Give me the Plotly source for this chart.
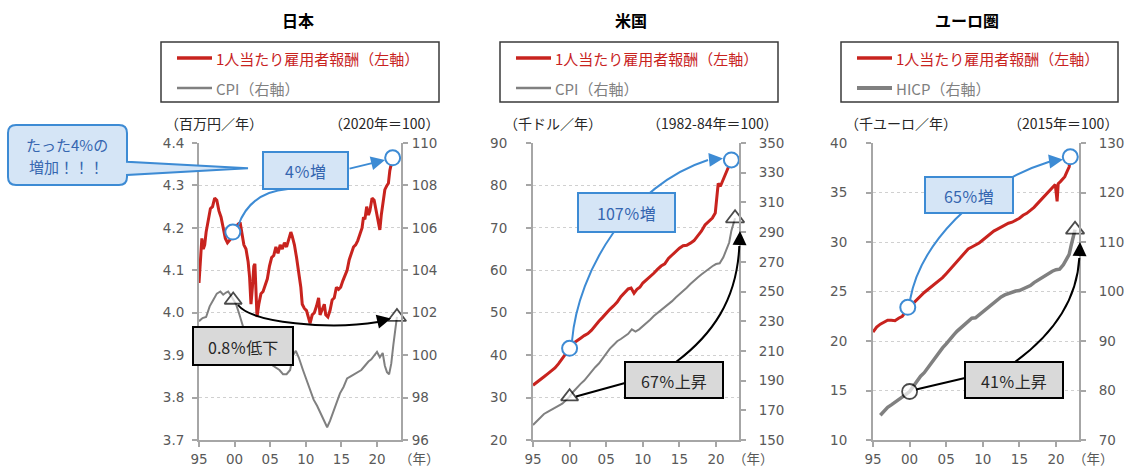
import plotly.graph_objects as go

W, H = 1132, 471
FONT = "Noto Sans CJK JP"
NUM_FONT = "DejaVu Sans"

RED = "#c8231e"
GRAY = "#808080"
BLUE = "#3d8bd4"
BLUE_FILL = "#d5e5f6"
BLUE_TEXT = "#3566b0"
BOX_GRAY = "#d9d9d9"
AXIS = "#a6a6a6"
TICK_TEXT = "#595959"

# ---------------- data ----------------
year_ticks = [1995, 2000, 2005, 2010, 2015, 2020]
year_labels = ["95", "00", "05", "10", "15", "20"]

panel_titles = ["日本", "米国", "ユーロ圏"]
wage_name = "1人当たり雇用者報酬（左軸）"
price_names = ["CPI（右軸）", "CPI（右軸）", "HICP（右軸）"]
left_units = ["（百万円／年）", "（千ドル／年）", "（千ユーロ／年）"]
right_units = ["（2020年＝100）", "（1982-84年＝100）", "（2015年＝100）"]

# Japan: compensation per employee (million yen / year)
jp_wage_years = [1995.0, 1995.2, 1995.4, 1995.6, 1995.8, 1996.0, 1996.3, 1996.6, 1996.9, 1997.2,
                 1997.5, 1997.8, 1998.1, 1998.4, 1998.7, 1999.0, 1999.3, 1999.5, 1999.75, 2000.0,
                 2000.3, 2000.6, 2000.8, 2001.0, 2001.3, 2001.6, 2001.9, 2002.1, 2002.3, 2002.5,
                 2002.7, 2002.85, 2003.0, 2003.15, 2003.4, 2003.7, 2004.0, 2004.3, 2004.6, 2004.9,
                 2005.2, 2005.5, 2005.8, 2006.1, 2006.4, 2006.7, 2007.0, 2007.3, 2007.6, 2007.9,
                 2008.1, 2008.4, 2008.7, 2009.0, 2009.3, 2009.5, 2009.8, 2010.1, 2010.4, 2010.6,
                 2010.9, 2011.2, 2011.5, 2011.8, 2012.0, 2012.3, 2012.6, 2012.8, 2013.1, 2013.4,
                 2013.7, 2014.0, 2014.3, 2014.6, 2014.9, 2015.2, 2015.5, 2015.8, 2016.1, 2016.4,
                 2016.7, 2017.0, 2017.3, 2017.6, 2017.9, 2018.1, 2018.3, 2018.55, 2018.8, 2019.0,
                 2019.3, 2019.6, 2019.9, 2020.2, 2020.4, 2020.6, 2020.9, 2021.1, 2021.4, 2021.6,
                 2021.8, 2022.0, 2022.2]
jp_wage = [4.07, 4.12, 4.175, 4.15, 4.16, 4.19, 4.22, 4.245, 4.25, 4.27,
           4.265, 4.24, 4.225, 4.20, 4.175, 4.165, 4.17, 4.175, 4.19, 4.195,
           4.205, 4.21, 4.21, 4.19, 4.16, 4.15, 4.12, 4.085, 4.02, 4.06,
           4.11, 4.115, 4.02, 3.99, 4.02, 4.045, 4.05, 4.065, 4.08, 4.11,
           4.13, 4.135, 4.155, 4.14, 4.16, 4.15, 4.165, 4.155, 4.17, 4.19,
           4.18, 4.16, 4.13, 4.10, 4.06, 4.02, 4.01, 4.005, 3.99, 3.975,
           3.995, 4.0, 4.015, 4.035, 3.995, 4.01, 4.02, 3.995, 3.99, 4.005,
           4.03, 4.035, 4.06, 4.055, 4.06, 4.075, 4.09, 4.10, 4.125, 4.14,
           4.155, 4.16, 4.17, 4.185, 4.20, 4.225, 4.22, 4.25, 4.23, 4.24,
           4.27, 4.265, 4.235, 4.205, 4.195, 4.23, 4.27, 4.29, 4.30, 4.305,
           4.335, 4.35, 4.365]

# Japan: CPI (2020 = 100)
jp_cpi_years = [1995.0, 1995.5, 1996.0, 1996.5, 1997.0, 1997.5, 1998.0, 1998.4, 1998.8, 1999.1,
                1999.5, 1999.8, 2000.2, 2000.6, 2001.0, 2001.5, 2002.0, 2002.5, 2003.0, 2003.5,
                2004.0, 2004.5, 2005.0, 2005.4, 2005.9, 2006.3, 2006.8, 2007.3, 2007.8, 2008.2,
                2008.6, 2009.0, 2009.6, 2010.1, 2010.6, 2011.1, 2011.6, 2012.0, 2012.5, 2013.0,
                2013.4, 2013.8, 2014.3, 2014.8, 2015.3, 2015.8, 2016.3, 2016.8, 2017.3, 2017.8,
                2018.3, 2018.8, 2019.2, 2019.6, 2020.0, 2020.4, 2020.8, 2021.1, 2021.4, 2021.7,
                2022.0, 2022.3, 2022.6, 2022.8]
jp_cpi = [101.6, 101.75, 101.8, 102.3, 102.6, 102.9, 103.0, 102.85, 102.95, 103.0,
          102.8, 102.6, 102.4, 102.0, 101.5, 101.0, 100.7, 100.4, 100.3, 100.2,
          100.1, 99.9, 99.6, 99.5, 99.4, 99.3, 99.1, 99.1, 99.3, 100.0,
          100.2, 99.9, 99.3, 98.8, 98.3, 97.9, 97.6, 97.3, 97.0, 96.6,
          96.9, 97.3, 97.8, 98.2, 98.5, 98.9, 99.0, 99.1, 99.2, 99.3,
          99.5, 99.7, 99.8, 100.0, 100.15, 99.9, 100.1, 99.5, 99.2, 99.1,
          99.6, 100.5, 101.3, 101.8]

# United States: compensation per employee (thousand dollars / year)
us_wage_years = [1995.0, 1995.5, 1996.0, 1996.5, 1997.0, 1997.5, 1998.0, 1998.5, 1999.0, 1999.5,
                 2000.0, 2000.5, 2001.0, 2001.5, 2002.0, 2002.5, 2003.0, 2003.5, 2004.0, 2004.5,
                 2005.0, 2005.5, 2006.0, 2006.5, 2007.0, 2007.5, 2008.0, 2008.4, 2008.8, 2009.2,
                 2009.6, 2010.0, 2010.5, 2011.0, 2011.5, 2012.0, 2012.5, 2013.0, 2013.5, 2014.0,
                 2014.5, 2015.0, 2015.5, 2016.0, 2016.5, 2017.0, 2017.5, 2018.0, 2018.5, 2019.0,
                 2019.5, 2019.9, 2020.1, 2020.3, 2020.6, 2020.9, 2021.2, 2021.5, 2021.8, 2022.1]
us_wage = [32.9, 33.5, 34.2, 34.9, 35.6, 36.2, 37.0, 38.0, 39.3, 40.5,
           41.6, 42.8, 43.5, 44.0, 44.6, 45.1, 45.9, 47.0, 48.0, 48.9,
           49.9, 50.8, 51.6, 52.5, 53.8, 54.8, 55.6, 55.8, 54.6, 55.5,
           56.0, 57.0, 57.7, 58.5, 59.3, 60.2, 61.0, 61.5, 62.8, 63.6,
           64.5, 65.2, 65.8, 65.9, 66.4, 67.0, 68.1, 69.2, 70.7, 71.6,
           72.3, 73.5, 77.0, 80.5, 79.8, 81.0, 82.0, 83.3, 84.6, 86.0]

# United States: CPI (1982-84 = 100)
us_cpi_years = [1995.0, 1995.5, 1996.0, 1996.5, 1997.0, 1997.5, 1998.0, 1998.5, 1999.0, 1999.5,
                2000.0, 2000.5, 2001.0, 2001.5, 2002.0, 2002.5, 2003.0, 2003.5, 2004.0, 2004.5,
                2005.0, 2005.5, 2006.0, 2006.5, 2007.0, 2007.5, 2008.0, 2008.5, 2009.0, 2009.5,
                2010.0, 2010.5, 2011.0, 2011.5, 2012.0, 2012.5, 2013.0, 2013.5, 2014.0, 2014.5,
                2015.0, 2015.5, 2016.0, 2016.5, 2017.0, 2017.5, 2018.0, 2018.5, 2019.0, 2019.5,
                2020.0, 2020.5, 2021.0, 2021.4, 2021.8, 2022.1, 2022.4, 2022.6]
us_cpi = [160.1, 162.5, 165.0, 167.5, 169.0, 170.3, 171.5, 173.0, 174.5, 176.8,
          179.2, 182.5, 185.5, 187.8, 190.0, 193.0, 196.5, 199.0, 201.5, 205.0,
          208.5, 211.5, 214.0, 216.5, 218.0, 219.5, 221.5, 224.5, 223.0, 224.5,
          226.5, 228.5, 231.0, 233.5, 235.5, 237.5, 239.0, 241.0, 243.5, 246.0,
          248.0, 250.0, 252.5, 255.0, 257.5, 259.5, 261.5, 263.5, 265.0, 267.0,
          268.5, 269.0, 273.0, 278.5, 283.0, 291.0, 296.5, 299.3]

# Euro area: compensation per employee (thousand euros / year)
ea_wage_years = [1995.0, 1995.5, 1996.0, 1996.5, 1997.0, 1997.5, 1998.0, 1998.5, 1999.0, 1999.5,
                 1999.75, 2000.5, 2001.0, 2001.5, 2002.0, 2002.5, 2003.0, 2003.5, 2004.0, 2004.5,
                 2005.0, 2005.5, 2006.0, 2006.5, 2007.0, 2007.5, 2008.0, 2008.5, 2009.0, 2009.5,
                 2010.0, 2010.5, 2011.0, 2011.5, 2012.0, 2012.5, 2013.0, 2013.5, 2014.0, 2014.5,
                 2015.0, 2015.5, 2016.0, 2016.5, 2017.0, 2017.5, 2018.0, 2018.5, 2019.0, 2019.5,
                 2019.9, 2020.15, 2020.3, 2020.6, 2020.9, 2021.2, 2021.5, 2021.8, 2021.95]
ea_wage = [20.9, 21.4, 21.7, 21.9, 22.1, 22.1, 22.05, 22.3, 22.5, 23.0,
           23.4, 23.8, 24.2, 24.6, 24.9, 25.2, 25.5, 25.8, 26.1, 26.4,
           26.8, 27.2, 27.6, 28.0, 28.4, 28.8, 29.3, 29.5, 29.7, 29.9,
           30.2, 30.5, 30.8, 31.1, 31.3, 31.5, 31.7, 31.9, 32.0, 32.2,
           32.4, 32.7, 32.9, 33.2, 33.5, 33.9, 34.3, 34.7, 35.1, 35.5,
           35.8, 34.1, 35.9, 36.1, 36.3, 36.6, 37.1, 37.6, 38.6]

# Euro area: HICP (2015 = 100)
ea_hicp_years = [1996.0, 1996.5, 1997.0, 1997.5, 1998.0, 1998.5, 1999.0, 1999.5, 2000.0, 2000.5,
                 2001.0, 2001.5, 2002.0, 2002.5, 2003.0, 2003.5, 2004.0, 2004.5, 2005.0, 2005.5,
                 2006.0, 2006.5, 2007.0, 2007.5, 2008.0, 2008.5, 2009.0, 2009.5, 2010.0, 2010.5,
                 2011.0, 2011.5, 2012.0, 2012.5, 2013.0, 2013.5, 2014.0, 2014.5, 2015.0, 2015.5,
                 2016.0, 2016.5, 2017.0, 2017.5, 2018.0, 2018.5, 2019.0, 2019.5, 2020.0, 2020.5,
                 2021.0, 2021.4, 2021.8, 2022.1, 2022.35, 2022.6]
ea_hicp = [75.0, 75.9, 76.6, 77.1, 77.6, 78.1, 78.5, 79.2, 79.8, 80.8,
           81.8, 82.9, 83.6, 84.6, 85.6, 86.8, 87.6, 88.6, 89.4, 90.4,
           91.2, 92.0, 92.6, 93.3, 94.0, 94.6, 94.7, 95.3, 95.8, 96.4,
           97.0, 97.7, 98.4, 98.9, 99.3, 99.6, 99.9, 100.1, 100.2, 100.5,
           100.8, 101.2, 101.8, 102.3, 102.8, 103.3, 103.7, 104.1, 104.4, 104.5,
           105.4, 106.3, 107.5, 109.5, 111.2, 112.5]

# start / end points that the change labels compare
jp_wage_marks = [1999.75, 2022.2]
jp_cpi_marks = [1999.8, 2022.8]
us_wage_marks = [2000.0, 2022.1]
us_cpi_marks = [2000.0, 2022.6]
ea_wage_marks = [1999.75, 2021.95]
ea_hicp_marks = [2000.0, 2022.6]

change_labels = ["4％増", "0.8％低下", "107％増", "67％上昇", "65％増", "41％上昇"]
callout_lines = ["たった4%の", "増加！！！"]


def pick(years, values, at):
    return [values[years.index(a)] for a in at]


# ---------------- figure ----------------
fig = go.Figure()

panels = [
    dict(wx=jp_wage_years, wy=jp_wage, px_=jp_cpi_years, py=jp_cpi, wm=jp_wage_marks, pm=jp_cpi_marks,
         pw=2, xa="x", ya="y", ya2="y2", psym=["triangle-up", "triangle-up"]),
    dict(wx=us_wage_years, wy=us_wage, px_=us_cpi_years, py=us_cpi, wm=us_wage_marks, pm=us_cpi_marks,
         pw=2, xa="x2", ya="y3", ya2="y4", psym=["triangle-up", "triangle-up"]),
    dict(wx=ea_wage_years, wy=ea_wage, px_=ea_hicp_years, py=ea_hicp, wm=ea_wage_marks, pm=ea_hicp_marks,
         pw=3.5, xa="x3", ya="y5", ya2="y6", psym=["circle", "triangle-up"]),
]

for p in panels:
    fig.add_trace(go.Scatter(x=p["wx"], y=p["wy"], mode="lines", xaxis=p["xa"], yaxis=p["ya"],
                             line=dict(color=RED, width=3), hoverinfo="skip"))
    fig.add_trace(go.Scatter(x=p["wm"], y=pick(p["wx"], p["wy"], p["wm"]), mode="markers",
                             xaxis=p["xa"], yaxis=p["ya"], cliponaxis=False,
                             marker=dict(symbol="circle", size=15, color="white",
                                         line=dict(color=BLUE, width=2)), hoverinfo="skip"))
    fig.add_trace(go.Scatter(x=p["px_"], y=p["py"], mode="lines", xaxis=p["xa"], yaxis=p["ya2"],
                             line=dict(color=GRAY, width=p["pw"]), hoverinfo="skip"))
    fig.add_trace(go.Scatter(x=p["pm"], y=pick(p["px_"], p["py"], p["pm"]), mode="markers",
                             xaxis=p["xa"], yaxis=p["ya2"], cliponaxis=False,
                             marker=dict(symbol=p["psym"], size=[15, 16], color="white",
                                         line=dict(color="black", width=1.8)), hoverinfo="skip"))

Y_DOM = [1 - 440 / H, 1 - 143 / H]
tickfont = dict(size=13.5, color=TICK_TEXT, family=NUM_FONT)
common = dict(ticks="outside", ticklen=5, tickwidth=1.5, tickcolor=AXIS, showline=True,
              linecolor=AXIS, linewidth=2, zeroline=False, tickfont=tickfont,
              automargin=False, fixedrange=True)


def xcfg(x0, x1, rng, anchor):
    return dict(domain=[x0 / W, x1 / W], range=rng, tickvals=year_ticks, ticktext=year_labels,
                showgrid=False, anchor=anchor, ticklabelstandoff=1, **common)


def ycfg(rng, dtick, anchor, fmt=None, standoff=16):
    d = dict(domain=Y_DOM, range=rng, dtick=dtick, tick0=rng[0],
             showgrid=True, gridcolor="#d0d0d0", griddash="dot", gridwidth=1,
             anchor=anchor, ticklabelstandoff=standoff, **common)
    if fmt:
        d["tickformat"] = fmt
    return d


def y2cfg(rng, dtick, anchor, over, standoff=10):
    return dict(range=rng, dtick=dtick, tick0=rng[0], overlaying=over, side="right", anchor=anchor,
                showgrid=False, ticklabelstandoff=standoff, **common)


fig.update_layout(
    xaxis=xcfg(199, 401, [1995, 2023.37], "y"),
    yaxis=ycfg([3.7, 4.4], 0.1, "x", ".1f", standoff=5),
    yaxis2=y2cfg([96, 110], 2, "x", "y", standoff=1),
    xaxis2=xcfg(533, 739, [1995, 2023.14], "y3"),
    yaxis3=ycfg([20, 90], 10, "x2"),
    yaxis4=y2cfg([150, 350], 20, "x2", "y3"),
    xaxis3=xcfg(873, 1079, [1995, 2023.14], "y5"),
    yaxis5=ycfg([10, 40], 5, "x3"),
    yaxis6=y2cfg([70, 130], 10, "x3", "y5"),
)

# ---------------- decorations (pixel positions) ----------------
shapes = []
annotations = []


def P(x, y):
    return f"{x / W:.5f},{1 - y / H:.5f}"


def path(*segs):
    out = []
    for cmd, *pts in segs:
        out.append(cmd + " " + " ".join(P(*pt) for pt in pts))
    return " ".join(out)


def add_path(d, color, width, fill=None):
    s = dict(type="path", xref="paper", yref="paper", path=d, layer="above",
             line=dict(color=color, width=width))
    if fill:
        s["fillcolor"] = fill
    shapes.append(s)


def add_rect(x0, y0, x1, y1, fill, color, width):
    shapes.append(dict(type="rect", xref="paper", yref="paper", x0=x0 / W, x1=x1 / W,
                       y0=1 - y1 / H, y1=1 - y0 / H, fillcolor=fill, layer="above",
                       line=dict(color=color, width=width)))


def add_line(x0, y0, x1, y1, color, width):
    shapes.append(dict(type="line", xref="paper", yref="paper", x0=x0 / W, x1=x1 / W,
                       y0=1 - y0 / H, y1=1 - y1 / H, layer="above",
                       line=dict(color=color, width=width)))


def add_text(x, y, s, size, color, xanchor="center", bold=False, family=FONT):
    annotations.append(dict(xref="paper", yref="paper", x=x / W, y=1 - y / H,
                            text=f"<b>{s}</b>" if bold else s,
                            showarrow=False, xanchor=xanchor, yanchor="middle",
                            font=dict(size=size, color=color, family=family)))


def add_head(tip, tail, color):
    annotations.append(dict(xref="paper", yref="paper", x=tip[0] / W, y=1 - tip[1] / H, text="",
                            showarrow=True, ax=tail[0] - tip[0], ay=tail[1] - tip[1],
                            arrowhead=2, arrowsize=1.4, arrowwidth=2, arrowcolor=color, standoff=0))


# titles, legends and unit labels
legend_boxes = [(161, 439), (500, 778), (841, 1118)]
title_x = [298, 631, 967]
year_unit_x = [419, 753, 1093]
for i, (bx0, bx1) in enumerate(legend_boxes):
    add_text(title_x[i], 20, panel_titles[i], 16, "black", bold=True)
    add_rect(bx0, 42, bx1, 102, "rgba(0,0,0,0)", "#3a3a3a", 1.5)
    add_line(bx0 + 16, 58, bx0 + 51, 58, RED, 3.5)
    add_line(bx0 + 16, 88, bx0 + 51, 88, GRAY, 4 if i == 2 else 2.5)
    add_text(bx0 + 53, 59, wage_name, 15, RED, xanchor="left")
    add_text(bx0 + 53, 89, price_names[i], 15, GRAY, xanchor="left")
    add_text(bx0 + 2, 123, left_units[i], 14, "#262626", xanchor="left")
    add_text(bx1 + 2, 123, right_units[i], 14, "#262626", xanchor="right")
    add_text(year_unit_x[i], 458, "（年）", 13.5, TICK_TEXT)

# --- Japan ---
add_path(path(("M", (16, 125)), ("L", (119, 125)), ("Q", (127, 125), (127, 133)),
              ("L", (127, 161.7)), ("L", (248, 168.3)), ("L", (127, 175)), ("L", (127, 177)),
              ("Q", (127, 185), (119, 185)), ("L", (16, 185)), ("Q", (8, 185), (8, 177)),
              ("L", (8, 133)), ("Q", (8, 125), (16, 125)), ("Z",)), BLUE, 2, BLUE_FILL)
add_text(67, 145, callout_lines[0], 15, BLUE_TEXT)
add_text(66, 167, callout_lines[1], 15, BLUE_TEXT)
add_path(path(("M", (238, 226)), ("Q", (250, 192), (288, 189))), BLUE, 2)
add_head((385, 160), (348, 169), BLUE)
add_path(path(("M", (238, 305)), ("C", (252, 323), (330, 330), (378, 322))), "black", 2)
add_head((391, 318.5), (376, 322), "black")
add_rect(263, 152, 348, 189, BLUE_FILL, BLUE, 2)
add_text(305.5, 171, change_labels[0], 16, BLUE_TEXT)
add_rect(193, 327, 293, 365, BOX_GRAY, "black", 2)
add_text(243, 346.5, change_labels[1], 16, "#262626")

# --- United States ---
add_path(path(("M", (572, 341)), ("C", (578, 270), (630, 185), (708, 160))), BLUE, 2)
add_head((723, 158.5), (708, 160), BLUE)
add_rect(578, 193, 675, 232, BLUE_FILL, BLUE, 2)
add_text(626.5, 213, change_labels[2], 16, BLUE_TEXT)
add_line(625, 383, 576, 396.5, "black", 2)
add_path(path(("M", (676, 362)), ("C", (712, 335), (737, 300), (739.3, 246))), "black", 2)
add_head((740, 231), (739.5, 246), "black")
add_rect(625, 362, 723, 398, BOX_GRAY, "black", 2)
add_text(674, 380.5, change_labels[3], 16, "#262626")

# --- Euro area ---
add_path(path(("M", (910, 300)), ("C", (920, 245), (975, 185), (1050, 161.5))), BLUE, 2)
add_head((1063, 159.5), (1049, 161.5), BLUE)
add_rect(925, 177, 1013, 213, BLUE_FILL, BLUE, 2)
add_text(969, 195.5, change_labels[4], 16, BLUE_TEXT)
add_line(965, 378, 916, 389.5, "black", 2)
add_path(path(("M", (1015, 362)), ("C", (1052, 335), (1077, 300), (1079.3, 258))), "black", 2)
add_head((1080, 242), (1079.5, 257), "black")
add_rect(965, 362, 1063, 398, BOX_GRAY, "black", 2)
add_text(1014, 380.5, change_labels[5], 16, "#262626")

fig.update_layout(
    width=W, height=H, margin=dict(l=0, r=0, t=0, b=0),
    paper_bgcolor="white", plot_bgcolor="white", showlegend=False,
    font=dict(family=FONT, color=TICK_TEXT),
    shapes=shapes, annotations=annotations,
)

fig.write_html("out.html")
